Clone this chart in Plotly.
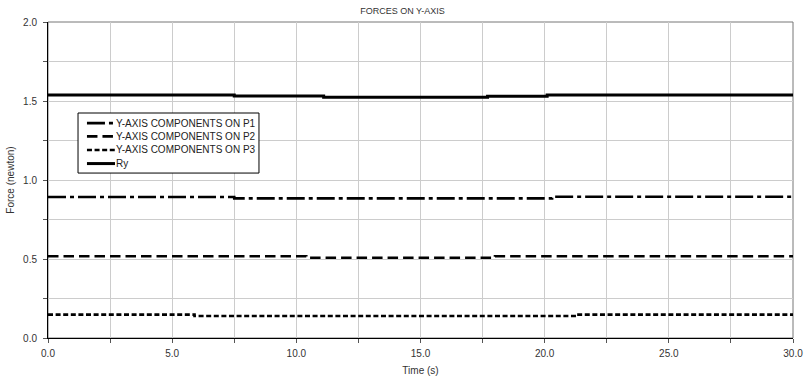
import plotly.graph_objects as go

# Step-wise series: (time breakpoints, values)
time_p1 = [0.0, 7.5, 7.5, 20.3, 20.3, 30.0]
force_p1 = [0.892, 0.892, 0.884, 0.884, 0.894, 0.894]

time_p2 = [0.0, 10.4, 10.4, 18.0, 18.0, 30.0]
force_p2 = [0.517, 0.517, 0.508, 0.508, 0.517, 0.517]

time_p3 = [0.0, 5.9, 5.9, 21.3, 21.3, 30.0]
force_p3 = [0.148, 0.148, 0.139, 0.139, 0.148, 0.148]

time_ry = [0.0, 7.5, 7.5, 11.1, 11.1, 17.7, 17.7, 20.1, 20.1, 30.0]
force_ry = [1.538, 1.538, 1.532, 1.532, 1.523, 1.523, 1.530, 1.530, 1.538, 1.538]

names = ["Y-AXIS COMPONENTS ON P1", "Y-AXIS COMPONENTS ON P2",
         "Y-AXIS COMPONENTS ON P3", "Ry"]
dashes = ["18px,4px,4px,4px", "10.5px,5px", "5px,2.6px", "solid"]
widths = [2.6, 2.6, 2.6, 3]

x_ticks = [0, 5, 10, 15, 20, 25, 30]
x_labels = ["0.0", "5.0", "10.0", "15.0", "20.0", "25.0", "30.0"]
y_ticks = [0, 0.5, 1.0, 1.5, 2.0]
y_labels = ["0.0", "0.5", "1.0", "1.5", "2.0"]

fig = go.Figure()
series = [(time_p1, force_p1), (time_p2, force_p2), (time_p3, force_p3), (time_ry, force_ry)]
for (t, f), dash, w, name in zip(series, dashes, widths, names):
    fig.add_trace(go.Scatter(x=t, y=f, mode="lines", name=name, showlegend=False,
                             line=dict(color="black", width=w, dash=dash)))

font_family = "Liberation Sans, Arial, sans-serif"
fig.update_layout(
    width=805, height=380,
    margin=dict(l=48, r=12, t=22, b=42, autoexpand=False),
    paper_bgcolor="white", plot_bgcolor="white",
    font=dict(family=font_family, size=10, color="#333333"),
    title=dict(text="FORCES ON Y-AXIS", x=0.5, xanchor="center", y=0.981, yanchor="top",
               font=dict(size=9, color="#333333")),
    showlegend=False,
    xaxis=dict(range=[0, 30], tickvals=x_ticks, ticktext=x_labels, automargin=False,
               showgrid=True, gridcolor="#cccccc", gridwidth=1,
               minor=dict(dtick=2.5, showgrid=True, gridcolor="#cccccc",
                          ticks="outside", ticklen=4, tickcolor="#555555"),
               ticks="outside", ticklen=4, tickcolor="#555555", ticklabelstandoff=2,
               showline=True, linecolor="black", linewidth=1, mirror=False,
               zeroline=False,
               title=dict(text="Time (s)", standoff=8, font=dict(size=10))),
    yaxis=dict(range=[0, 2], tickvals=y_ticks, ticktext=y_labels, automargin=False,
               showgrid=True, gridcolor="#cccccc", gridwidth=1,
               minor=dict(dtick=0.25, showgrid=True, gridcolor="#cccccc",
                          ticks="outside", ticklen=4, tickcolor="#555555"),
               ticks="outside", ticklen=4, tickcolor="#555555", ticklabelstandoff=4,
               showline=True, linecolor="black", linewidth=1,
               zeroline=False,
               title=dict(text="Force (newton)", standoff=6, font=dict(size=10))),
)
# grey frame on top and right
fig.add_shape(type="rect", xref="paper", yref="paper", x0=0, y0=0, x1=1, y1=1,
              line=dict(color="#777777", width=1), layer="below")

# Legend box (drawn in paper coordinates)
leg_x0, leg_x1, leg_y0, leg_y1 = 0.0403, 0.2832, 0.522, 0.712
fig.add_shape(type="rect", xref="paper", yref="paper", x0=leg_x0, x1=leg_x1,
              y0=leg_y0, y1=leg_y1, line=dict(color="black", width=1),
              fillcolor="white", layer="above")
row_y = [0.680, 0.638, 0.595, 0.552]
for name, dash, w, ry in zip(names, dashes, widths, row_y):
    fig.add_shape(type="line", xref="paper", yref="paper", x0=0.0523, x1=0.0899,
                  y0=ry, y1=ry, line=dict(color="black", width=w, dash=dash),
                  layer="above")
    fig.add_annotation(xref="paper", yref="paper", x=0.088, y=ry, text=name,
                       showarrow=False, xanchor="left", yanchor="middle",
                       font=dict(size=10, color="#222222"))

fig.write_html("out.html", config={"displayModeBar": False},
               post_script="document.body.style.margin='0';document.body.style.overflow='hidden';")
